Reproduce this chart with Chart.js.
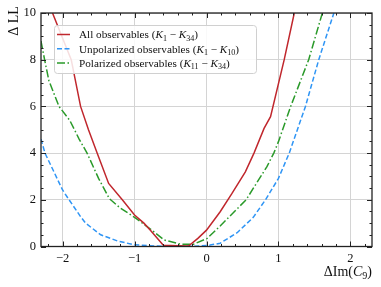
<!DOCTYPE html>
<html>
<head>
<meta charset="utf-8">
<script src="https://cdn.jsdelivr.net/npm/chart.js@4.4.1/dist/chart.umd.min.js"></script>
<style>
  html, body { margin: 0; padding: 0; background: #fff; }
  #wrap { width: 381px; height: 287px; }
</style>
</head>
<body>
<div id="wrap"><canvas id="grafico"></canvas></div>
<script>
'use strict';

// Valores (ΔIm(C9), ΔLL)
const todosX = [-2.14, -1.88, -1.75, -1.64, -1.52, -1.36, -1.17, -1.0, -0.87, -0.78, -0.6, -0.4, -0.25, -0.12, 0.0, 0.19, 0.35, 0.54, 0.66, 0.8, 0.89, 1.08, 1.22];
const todosY = [10, 8, 6, 5.0, 4.0, 2.7, 2.0, 1.35, 1.0, 0.7, 0.05, 0.03, 0.02, 0.35, 0.7, 1.49, 2.25, 3.2, 4.0, 5.06, 5.56, 8, 10];

const noPolX = [-2.3, -2.245, -2.0, -1.91, -1.75, -1.68, -1.47, -1.24, -1.0, -0.7, -0.4, -0.1, 0.05, 0.19, 0.43, 0.65, 0.82, 1.0, 1.15, 1.375, 1.56, 1.77];
const noPolY = [4.6, 4.0, 2.42, 2.0, 1.28, 1.0, 0.5, 0.24, 0.07, 0.02, 0.0, 0.02, 0.06, 0.14, 0.6, 1.25, 2.0, 2.92, 4.0, 6.0, 8.0, 10];

const polX = [-2.3, -2.25, -2.19, -2.05, -1.9, -1.77, -1.66, -1.5, -1.35, -1.2, -1.0, -0.78, -0.59, -0.36, -0.18, 0.01, 0.19, 0.55, 0.84, 0.935, 1.0, 1.17, 1.42, 1.61];
const polY = [8.8, 8.0, 7.1, 6.0, 5.4, 4.6, 4.0, 2.92, 2.05, 1.65, 1.25, 0.75, 0.28, 0.1, 0.1, 0.35, 0.88, 2.0, 3.42, 4.0, 4.49, 6.0, 8.0, 10];

const ticksX = [-2, -1, 0, 1, 2];
const ticksY = [0, 2, 4, 6, 8, 10];

// Textos de la leyenda: [texto, cursiva, subíndice]
const leyendas = [
    [["All observables (", 0, 0], ["K", 1, 0], ["1", 0, 1], [" \u2212 ", 0, 0], ["K", 1, 0], ["34", 0, 1], [")", 0, 0]],
    [["Unpolarized observables (", 0, 0], ["K", 1, 0], ["1", 0, 1], [" \u2212 ", 0, 0], ["K", 1, 0], ["10", 0, 1], [")", 0, 0]],
    [["Polarized observables (", 0, 0], ["K", 1, 0], ["11", 0, 1], [" \u2212 ", 0, 0], ["K", 1, 0], ["34", 0, 1], [")", 0, 0]]
];
const etiquetaX = [["\u0394Im(", 0, 0], ["C", 1, 0], ["9", 0, 1], [")", 0, 0]];
const etiquetaY = "\u0394 LL";

const colores = ["#c0272d", "#2f95f5", "#2a9a2a"];
const trazos = [[], [5, 2.5], [8, 2.5, 1.5, 2.5]];
const FUENTE = "'Liberation Serif', 'DejaVu Serif', serif";

function puntos(xs, ys) {
    return xs.map((x, i) => ({ x: x, y: ys[i] }));
}

/**
 * Mide y dibuja texto con cursivas y subíndices.
 */
function medirRico(ctx, partes, tam) {
    let w = 0;
    partes.forEach(([t, it, sub]) => {
        ctx.font = `${it ? 'italic ' : ''}${sub ? tam * 0.72 : tam}px ${FUENTE}`;
        w += ctx.measureText(t).width;
    });
    return w;
}

function dibujarRico(ctx, partes, x, y, tam) {
    ctx.textBaseline = "alphabetic";
    ctx.textAlign = "left";
    partes.forEach(([t, it, sub]) => {
        ctx.font = `${it ? 'italic ' : ''}${sub ? tam * 0.72 : tam}px ${FUENTE}`;
        ctx.fillText(t, x, y + (sub ? tam * 0.22 : 0));
        x += ctx.measureText(t).width;
    });
}

const marcoPlugin = {
    id: "marco",
    afterDraw(chart) {
        const ctx = chart.ctx;
        const a = chart.chartArea;
        const sx = chart.scales.x, sy = chart.scales.y;
        ctx.save();

        // marco
        ctx.strokeStyle = "#222";
        ctx.lineWidth = 1.3;
        ctx.strokeRect(a.left, a.top, a.right - a.left, a.bottom - a.top);

        // marcas hacia dentro en los cuatro lados
        ctx.lineWidth = 1;
        ctx.beginPath();
        for (let i = -11; i <= 11; i++) {
            const v = i * 0.2;
            if (v < sx.min - 1e-9 || v > sx.max + 1e-9) continue;
            const px = Math.round(sx.getPixelForValue(v)) + 0.5;
            const largo = (i % 5 === 0) ? 5 : 2.5;
            ctx.moveTo(px, a.bottom); ctx.lineTo(px, a.bottom - largo);
            ctx.moveTo(px, a.top); ctx.lineTo(px, a.top + largo);
        }
        for (let i = 0; i <= 20; i++) {
            const py = Math.round(sy.getPixelForValue(i * 0.5)) + 0.5;
            const largo = (i % 4 === 0) ? 5 : 2.5;
            ctx.moveTo(a.left, py); ctx.lineTo(a.left + largo, py);
            ctx.moveTo(a.right, py); ctx.lineTo(a.right - largo, py);
        }
        ctx.stroke();

        // leyenda
        const lx = 54, ly = 25, lw = 202, lh = 48;
        ctx.fillStyle = "rgba(255,255,255,0.85)";
        ctx.strokeStyle = "#d0d0d0";
        ctx.beginPath();
        ctx.roundRect(lx + 0.5, ly + 0.5, lw, lh, 3);
        ctx.fill();
        ctx.stroke();
        leyendas.forEach((partes, i) => {
            const y = 34.5 + i * 14.2;
            ctx.strokeStyle = colores[i];
            ctx.lineWidth = 1.5;
            ctx.setLineDash(trazos[i]);
            ctx.beginPath();
            ctx.moveTo(57, y); ctx.lineTo(70, y);
            ctx.stroke();
            ctx.setLineDash([]);
            ctx.fillStyle = "#111";
            dibujarRico(ctx, partes, 79, y + 3.8, 11.2);
        });

        // etiquetas de los ejes
        ctx.fillStyle = "#111";
        const tx = 14;
        const w = medirRico(ctx, etiquetaX, tx);
        dibujarRico(ctx, etiquetaX, a.right - w, 276, tx);

        ctx.translate(14, 21);
        ctx.rotate(-Math.PI / 2);
        ctx.font = `14px ${FUENTE}`;
        ctx.textAlign = "center";
        ctx.textBaseline = "middle";
        ctx.fillText(etiquetaY, 0, 0);
        ctx.restore();
    }
};

const conjuntos = [
    { label: "All observables", data: puntos(todosX, todosY) },
    { label: "Unpolarized observables", data: puntos(noPolX, noPolY) },
    { label: "Polarized observables", data: puntos(polX, polY) }
].map((d, i) => ({
    ...d,
    borderColor: colores[i],
    backgroundColor: colores[i],
    borderDash: trazos[i],
    borderWidth: 1.5,
    pointRadius: 0,
    tension: 0,
    fill: false
}));

new Chart(document.getElementById("grafico"), {
    type: "line",
    data: { datasets: conjuntos },
    options: {
        responsive: true,
        maintainAspectRatio: false,
        animation: false,
        layout: { padding: { top: 13, right: 9, left: 0, bottom: 0 } },
        plugins: { legend: { display: false }, tooltip: { enabled: false } },
        scales: {
            x: {
                type: "linear",
                min: -2.3,
                max: 2.3,
                afterFit(s) { s.height = 40.5; },
                afterBuildTicks(s) { s.ticks = ticksX.map(v => ({ value: v })); },
                grid: { color: "#d4d4d4", lineWidth: 1, drawTicks: false },
                border: { display: false },
                ticks: {
                    padding: 5,
                    color: "#111",
                    font: { family: FUENTE, size: 12.5 },
                    callback: v => String(v).replace("-", "\u2212")
                }
            },
            y: {
                min: 0,
                max: 10,
                afterFit(s) { s.width = 41; },
                afterBuildTicks(s) { s.ticks = ticksY.map(v => ({ value: v })); },
                grid: { color: "#d4d4d4", lineWidth: 1, drawTicks: false },
                border: { display: false },
                ticks: {
                    padding: 5,
                    color: "#111",
                    font: { family: FUENTE, size: 12.5 }
                }
            }
        }
    },
    plugins: [marcoPlugin]
});
</script>
</body>
</html>
